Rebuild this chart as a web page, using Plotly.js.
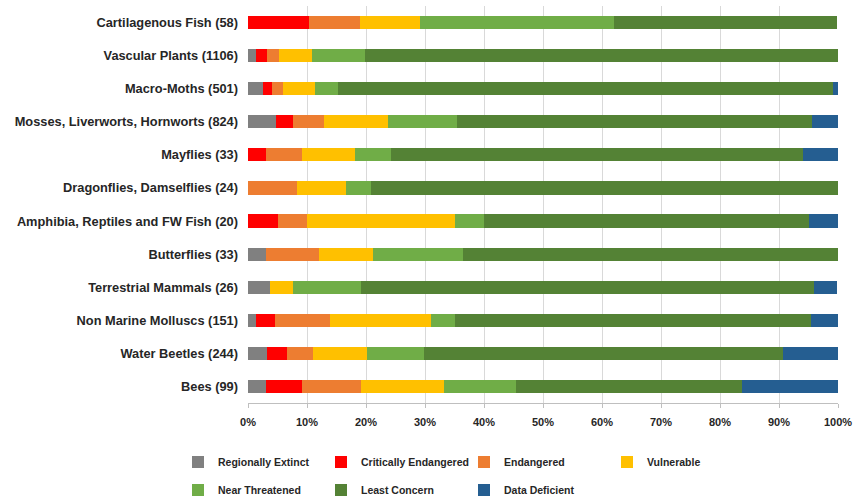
<!DOCTYPE html>
<html><head><meta charset="utf-8">
<script src="https://cdn.plot.ly/plotly-3.0.1.min.js"></script>
<style>html,body{margin:0;padding:0;background:#fff}#c{width:862px;height:500px}</style>
</head><body><div id="c"></div>
<script>
const categories = ["Cartilagenous Fish (58)","Vascular Plants (1106)","Macro-Moths (501)","Mosses, Liverworts, Hornworts (824)","Mayflies (33)","Dragonflies, Damselflies (24)","Amphibia, Reptiles and FW Fish (20)","Butterflies (33)","Terrestrial Mammals (26)","Non Marine Molluscs (151)","Water Beetles (244)","Bees (99)"];
const regionallyExtinct = [0, 1.3, 2.6, 4.7, 0, 0, 0, 3.0, 3.8, 1.3, 3.3, 3.0];
const criticallyEndangered = [10.3, 1.9, 1.5, 2.9, 3.0, 0, 5, 0, 0, 3.3, 3.3, 6.1];
const endangered = [8.6, 2.1, 1.8, 5.2, 6.1, 8.3, 5, 9.1, 0, 9.3, 4.5, 10.1];
const vulnerable = [10.3, 5.5, 5.5, 10.9, 9.1, 8.3, 25, 9.1, 3.8, 17.2, 9.0, 14.1];
const nearThreatened = [32.8, 9.0, 3.9, 11.8, 6.1, 4.2, 5, 15.2, 11.5, 4.0, 9.8, 12.1];
const leastConcern = [37.9, 80.2, 83.9, 60.1, 69.7, 79.2, 55, 63.6, 76.9, 60.3, 60.7, 38.4];
const dataDeficient = [0, 0, 0.8, 4.4, 6.1, 0, 5, 0, 3.8, 4.6, 9.4, 16.2];
const seriesNames = ["Regionally Extinct","Critically Endangered","Endangered","Vulnerable","Near Threatened","Least Concern","Data Deficient"];
const tickVals = [0,10,20,30,40,50,60,70,80,90,100];
const tickText = ["0%","10%","20%","30%","40%","50%","60%","70%","80%","90%","100%"];

const seriesData = [regionallyExtinct, criticallyEndangered, endangered, vulnerable, nearThreatened, leastConcern, dataDeficient];
const colors = ["#808080","#FF0000","#ED7D31","#FFC000","#70AD47","#548235","#255E91"];
const traces = seriesData.map((vals, i) => ({
  type: 'bar', orientation: 'h', name: seriesNames[i],
  x: vals, y: categories,
  marker: {color: colors[i], line: {width: 0}},
  width: 0.4,
  legend: i < 4 ? 'legend' : 'legend2',
  hoverinfo: 'x+name'
}));
const fam = 'Liberation Sans, Arial, sans-serif';
const legBase = {orientation: 'h', xanchor: 'left', yanchor: 'middle', xref: 'container', yref: 'container',
  entrywidth: 98, entrywidthmode: 'pixels',
  font: {family: fam, size: 10.5, color: '#262626', weight: 'bold'}, itemwidth: 30, bgcolor: 'rgba(0,0,0,0)', traceorder: 'normal'};
const layout = {
  width: 862, height: 500,
  margin: {l: 248, r: 24, t: 6, b: 97},
  barmode: 'stack', bargap: 0.6,
  paper_bgcolor: '#fff', plot_bgcolor: '#fff',
  font: {family: fam, size: 11, color: '#262626'},
  xaxis: {range: [0, 100], tickvals: tickVals, ticktext: tickText, showgrid: true, gridcolor: '#d9d9d9', gridwidth: 1,
    zeroline: false, showline: true, linecolor: '#bfbfbf', linewidth: 1, ticks: 'outside', ticklen: 4, tickcolor: '#bfbfbf',
    ticklabelstandoff: 5,
    tickfont: {family: fam, size: 11, color: '#262626', weight: 'bold'}, fixedrange: true},
  yaxis: {autorange: 'reversed', showgrid: false, ticks: '', ticklen: 0, showline: false, ticklabelstandoff: 9,
    tickfont: {family: fam, size: 12.8, color: '#262626', weight: 'bold'}, fixedrange: true},
  legend: Object.assign({}, legBase, {x: 178 / 862, y: 1 - 462 / 500}),
  legend2: Object.assign({}, legBase, {x: 178 / 862, y: 1 - 490 / 500}),
  showlegend: true
};
Plotly.newPlot('c', traces, layout, {displayModeBar: false, staticPlot: true});
</script></body></html>
